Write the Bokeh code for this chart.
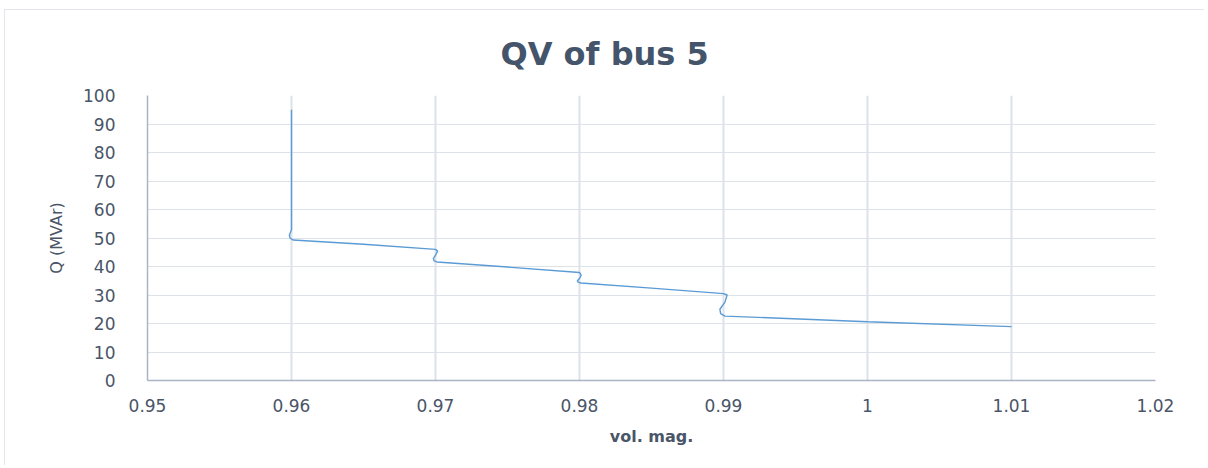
from bokeh.plotting import figure
from bokeh.models import FixedTicker, Range1d
from bokeh.embed import file_html
from bokeh.resources import INLINE

# Data (voltage magnitude vs reactive power)
vol_mag = [0.9600, 0.9600, 0.9600, 0.9600, 0.95985, 0.9599, 0.9601, 0.9650,
           0.9700, 0.97015, 0.9700, 0.96985, 0.9699, 0.9701, 0.9750,
           0.9800, 0.98012, 0.9800, 0.97985, 0.9799, 0.9801, 0.9850,
           0.9900, 0.99025, 0.9901, 0.98975, 0.9898, 0.9901, 1.0000, 1.0100]
q_mvar = [95.0, 75.0, 60.0, 53.0, 51.0, 50.0, 49.3, 47.8,
          46.0, 45.4, 44.0, 42.8, 42.0, 41.6, 39.8,
          37.9, 37.0, 35.8, 35.0, 34.5, 34.2, 32.4,
          30.5, 30.0, 27.5, 25.0, 23.5, 22.6, 20.6, 18.9]

x_ticks = [0.95, 0.96, 0.97, 0.98, 0.99, 1.0, 1.01, 1.02]
x_tick_labels = ["0.95", "0.96", "0.97", "0.98", "0.99", "1", "1.01", "1.02"]
y_ticks = [0, 10, 20, 30, 40, 50, 60, 70, 80, 90, 100]

title_text = "QV of bus 5"
x_label = "vol. mag."
y_label = "Q (MVAr)"

text_col = "#4a5568"
grid_col = "#dde1e8"
axis_col = "#a9b4c6"

p = figure(width=1200, height=456, output_backend="svg", toolbar_location=None,
           x_range=Range1d(0.95, 1.02), y_range=Range1d(0, 100),
           min_border_left=142, min_border_right=50, min_border_top=85,
           min_border_bottom=86)
p.styles = {"border-left": "1px solid #e3e5ea", "border-top": "1px solid #e3e5ea",
            "margin-left": "4px", "margin-top": "9px"}

p.outline_line_color = None
p.background_fill_color = "white"

p.line(vol_mag, q_mvar, line_color="#5b9bd5", line_width=1.4)

p.xaxis.ticker = FixedTicker(ticks=x_ticks)
p.xaxis.major_label_overrides = {t: l for t, l in zip(x_ticks, x_tick_labels)}
p.yaxis.ticker = FixedTicker(ticks=y_ticks)

for ax in (p.xaxis, p.yaxis):
    ax.axis_line_color = axis_col
    ax.axis_line_width = 1.5
    ax.major_tick_line_color = None
    ax.minor_tick_line_color = None
    ax.major_label_text_font = "DejaVu Sans"
    ax.major_label_text_font_size = "17px"
    ax.major_label_text_color = text_col
    ax.axis_label_text_color = text_col
    ax.axis_label_text_font = "DejaVu Sans"

p.xaxis.major_label_standoff = 12
p.yaxis.major_label_standoff = 26
p.xaxis.axis_label = x_label
p.xaxis.axis_label_text_font_style = "bold"
p.xaxis.axis_label_text_font_size = "16px"
p.xaxis.axis_label_standoff = 12
p.yaxis.axis_label = y_label
p.yaxis.axis_label_text_font_style = "normal"
p.yaxis.axis_label_text_font_size = "16px"
p.yaxis.axis_label_standoff = 14

p.xgrid.grid_line_color = grid_col
p.xgrid.grid_line_width = 2
p.ygrid.grid_line_color = grid_col
p.ygrid.grid_line_width = 1.2

p.title.text = title_text
p.title.align = "left"
p.title.offset = 353
p.title.text_font = "DejaVu Sans"
p.title.text_font_style = "bold"
p.title.text_font_size = "32px"
p.title.text_color = "#44546a"
p.title.standoff = 45

open("out.html", "w").write(file_html(p, INLINE))
